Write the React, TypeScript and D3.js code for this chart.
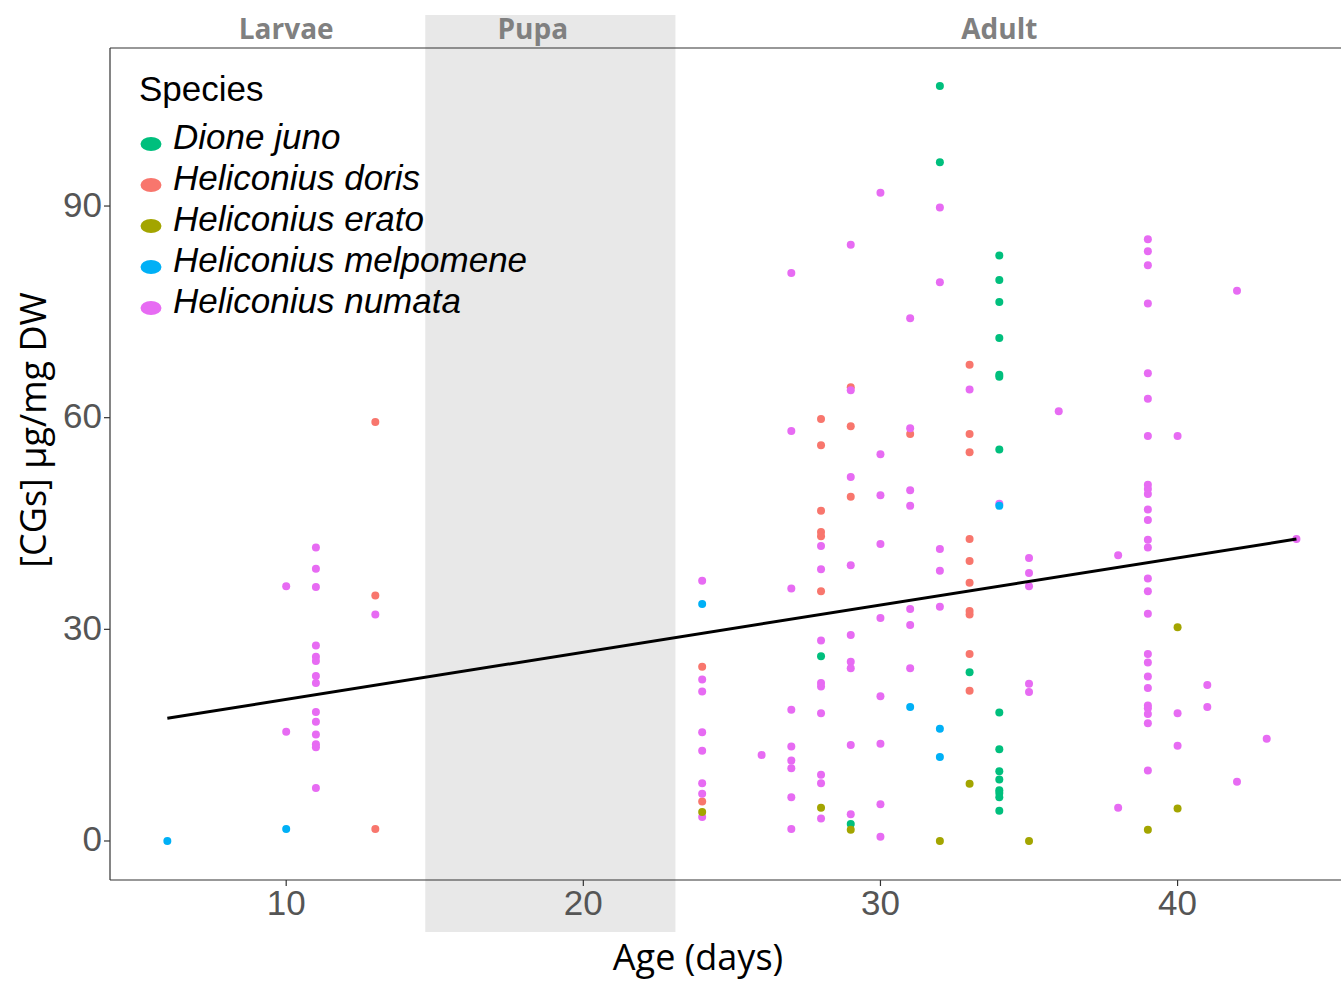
import React from 'react';
import * as d3 from 'd3';

// ---- data (age in days, [CGs] µg/mg DW) ----
const dioneJuno: [number, number][] = [
  [28, 26.2], [29, 2.4], [32, 107.0], [32, 96.2], [33, 23.9], [34, 83.0], [34, 79.5], [34, 76.4],
  [34, 71.3], [34, 66.1], [34, 65.8], [34, 55.5], [34, 18.2], [34, 13.0], [34, 9.9], [34, 8.7],
  [34, 7.2], [34, 6.8], [34, 6.2], [34, 4.3],
];
const helDoris: [number, number][] = [
  [13, 59.4], [13, 34.8], [13, 1.7], [24, 24.7], [24, 5.6], [28, 59.8], [28, 56.1], [28, 46.8],
  [28, 43.8], [28, 43.2], [28, 35.4], [29, 64.3], [29, 58.8], [29, 48.8], [31, 57.7], [33, 67.5],
  [33, 57.7], [33, 55.1], [33, 42.8], [33, 39.7], [33, 36.6], [33, 32.6], [33, 32.1], [33, 26.5],
  [33, 21.3],
];
const helErato: [number, number][] = [
  [24, 4.1], [28, 4.7], [29, 1.6], [32, 0], [33, 8.1], [35, 0], [39, 1.6], [40, 30.3], [40, 4.6],
];
const helMelpomene: [number, number][] = [
  [6, 0], [10, 1.7], [24, 33.6], [31, 19.0], [32, 15.9], [32, 11.9], [34, 47.5],
];
const numataByDay: [number, number[]][] = [
  [10, [36.1, 15.5]],
  [11, [41.6, 38.6, 36.0, 27.7, 26.1, 25.5, 23.4, 22.4, 18.3, 16.9, 15.1, 13.7, 13.3, 7.5]],
  [13, [32.1]],
  [24, [36.9, 22.9, 21.2, 15.4, 12.8, 8.2, 6.7, 3.4]],
  [26, [12.2]],
  [27, [80.5, 58.1, 35.8, 18.6, 13.4, 11.4, 10.3, 6.2, 1.7]],
  [28, [41.8, 38.5, 28.4, 22.4, 21.9, 18.1, 9.4, 8.2, 3.2]],
  [29, [84.5, 63.9, 51.6, 39.1, 29.2, 25.4, 24.5, 13.6, 3.8]],
  [30, [91.9, 54.8, 49.0, 42.1, 31.6, 20.5, 13.8, 5.2, 0.6]],
  [31, [74.1, 58.5, 49.7, 47.5, 32.9, 30.6, 24.5]],
  [32, [89.8, 79.2, 41.4, 38.3, 33.2]],
  [33, [64.0]],
  [34, [47.8]],
  [35, [40.1, 38.0, 36.1, 22.3, 21.1]],
  [36, [60.9]],
  [38, [40.5, 4.7]],
  [39, [85.3, 83.6, 81.6, 76.2, 66.3, 62.7, 57.4, 50.5, 49.9, 49.2, 47.0, 45.5, 42.7, 41.6, 37.2,
    35.4, 32.2, 26.5, 25.3, 23.3, 21.7, 19.2, 18.8, 18.0, 16.7, 10.0]],
  [40, [57.4, 18.1, 13.5]],
  [41, [22.1, 19.0]],
  [42, [78.0, 8.4]],
  [43, [14.5]],
  [44, [42.8]],
];
const helNumata: [number, number][] = numataByDay.flatMap(([d, vs]) => vs.map(v => [d, v] as [number, number]));

const speciesNames = ['Dione juno', 'Heliconius doris', 'Heliconius erato', 'Heliconius melpomene', 'Heliconius numata'];
const speciesColors = ['#00BF7D', '#F8766D', '#A3A500', '#00B0F6', '#E76BF3'];
const speciesData = [dioneJuno, helDoris, helErato, helMelpomene, helNumata];
const drawOrder = [1, 4, 0, 2, 3];

const xTicks = [10, 20, 30, 40];
const yTicks = [0, 30, 60, 90];
const regAge = [6, 44];
const regVal = [17.4, 42.8];
const pupaRange = [14.68, 23.1];
const phaseLabels = ['Larvae', 'Pupa', 'Adult'];
const phaseCenters = [10, 18.3, 34];

export default function App() {
  const W = 1341, H = 983;
  const left = 110, right = 1341, top = 48, bottom = 880;
  const x = d3.scaleLinear().domain([4.07, 45.5]).range([left, right]);
  const y = d3.scaleLinear().domain([-5.53, 112.4]).range([bottom, top]);
  const line = d3.line<number>().x((_, i) => x(regAge[i])).y(d => y(d));

  return (
    <svg width={W} height={H} style={{ position: 'absolute', left: 0, top: 0, background: '#fff' }}
      fontFamily="'Liberation Sans', Arial, sans-serif">
      <rect x={0} y={0} width={W} height={H} fill="#fff" />
      {/* pupa shade */}
      <rect x={x(pupaRange[0])} y={15} width={x(pupaRange[1]) - x(pupaRange[0])} height={932 - 15} fill="#E8E8E8" />
      {/* panel border */}
      <line x1={left} x2={right + 2} y1={top} y2={top} stroke="#333" strokeWidth={1.2} />
      <line x1={left} x2={right + 2} y1={bottom} y2={bottom} stroke="#333" strokeWidth={1.2} />
      <line x1={left} x2={left} y1={top} y2={bottom} stroke="#333" strokeWidth={1.2} />
      {/* phase labels */}
      {phaseLabels.map((t, i) => (
        <text key={t} x={x(phaseCenters[i])} y={39} textAnchor="middle" fontFamily="'Open Sans', sans-serif"
          fontWeight="bold" fontSize={28} fill="#808080">{t}</text>
      ))}
      {/* y ticks */}
      {yTicks.map(t => (
        <g key={t}>
          <line x1={left - 6} x2={left} y1={y(t)} y2={y(t)} stroke="#333" strokeWidth={1.2} />
          <text x={left - 8} y={y(t)} dy="0.3em" textAnchor="end" fontSize={35} fill="#555">{t}</text>
        </g>
      ))}
      {/* x ticks */}
      {xTicks.map(t => (
        <g key={t}>
          <line x1={x(t)} x2={x(t)} y1={bottom} y2={bottom + 6} stroke="#333" strokeWidth={1.2} />
          <text x={x(t)} y={bottom + 35} textAnchor="middle" fontSize={35} fill="#555">{t}</text>
        </g>
      ))}
      {/* axis titles */}
      <text x={698} y={970} textAnchor="middle" fontFamily="'Open Sans', sans-serif" fontSize={36} fill="#000">Age (days)</text>
      <text transform={`translate(46,430) rotate(-90)`} textAnchor="middle" fontFamily="'Open Sans', sans-serif" fontSize={36} fill="#000">[CGs] µg/mg DW</text>
      {/* points */}
      {drawOrder.map(si => (
        <g key={si} fill={speciesColors[si]}>
          {speciesData[si].map((d, j) => (
            <circle key={j} cx={x(d[0])} cy={y(d[1])} r={4} />
          ))}
        </g>
      ))}
      {/* regression line */}
      <path d={line(regVal) || ''} fill="none" stroke="#000" strokeWidth={3} />
      {/* legend */}
      <text x={139} y={101} fontSize={35} fill="#000">Species</text>
      {speciesNames.map((n, i) => (
        <g key={n} transform={`translate(0,${137 + i * 41})`}>
          <ellipse cx={151} cy={7} rx={10.5} ry={7} fill={speciesColors[i]} />
          <text x={173} y={12} fontSize={35} fontStyle="italic" fill="#000">{n}</text>
        </g>
      ))}
    </svg>
  );
}
